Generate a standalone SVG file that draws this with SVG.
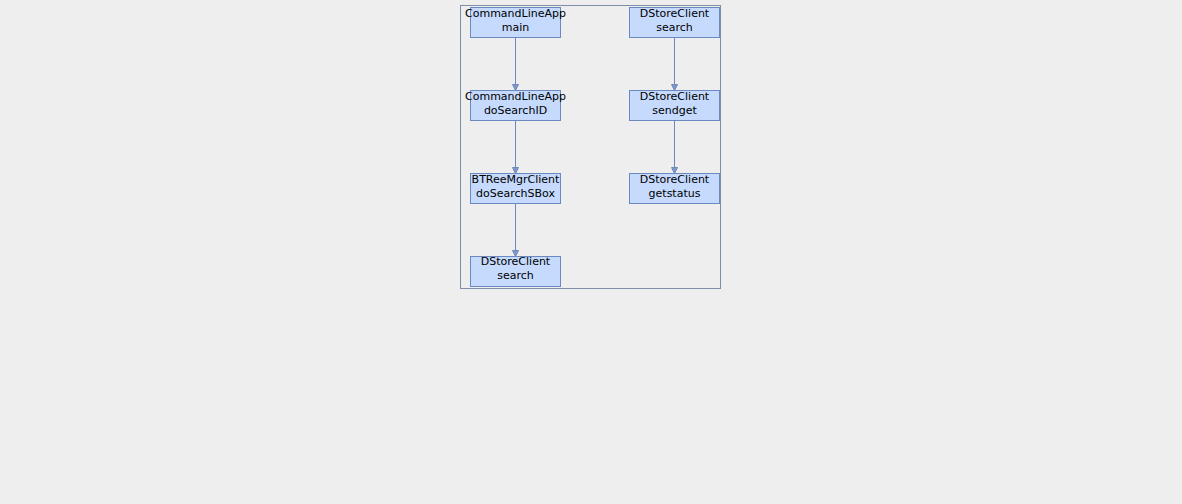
<svg xmlns="http://www.w3.org/2000/svg" width="1182" height="504" viewBox="0 0 1182 504">
<style>
.bg{fill:#eeeeee}
.frame{fill:none;stroke:#7f8ea8;stroke-width:1}
.node rect{fill:#c5dafd;stroke:#6c88c0;stroke-width:1}
.node text{font-family:"DejaVu Sans",sans-serif;font-size:11px;fill:#000;text-anchor:middle}
.edge{stroke:#6f89bd;stroke-width:1;fill:none;marker-end:url(#arr)}
</style>
<defs>
<marker id="arr" markerWidth="8" markerHeight="8" refX="7" refY="4" orient="auto" markerUnits="userSpaceOnUse">
<path d="M1,1 L7,4 L1,7 Z" fill="#7f98cc" stroke="#6f89bd" stroke-width="1"/>
</marker>
</defs>
<rect class="bg" x="0" y="0" width="1182" height="504"/>
<rect class="frame" x="460.5" y="5.5" width="260" height="283"/>
<g id="connectors">
<line class="edge" x1="515.5" y1="37.5" x2="515.5" y2="90.5"/>
<line class="edge" x1="515.5" y1="120.5" x2="515.5" y2="173.5"/>
<line class="edge" x1="515.5" y1="203.5" x2="515.5" y2="256.5"/>
<line class="edge" x1="674.5" y1="37.5" x2="674.5" y2="90.5"/>
<line class="edge" x1="674.5" y1="120.5" x2="674.5" y2="173.5"/>
</g>
<g id="n1" class="node"><rect x="470.5" y="7.5" width="90" height="30"/><text x="515.5" y="17">CommandLineApp</text><text x="515.5" y="31">main</text></g>
<g id="n2" class="node"><rect x="470.5" y="90.5" width="90" height="30"/><text x="515.5" y="100">CommandLineApp</text><text x="515.5" y="114">doSearchID</text></g>
<g id="n3" class="node"><rect x="470.5" y="173.5" width="90" height="30"/><text x="515.5" y="183">BTReeMgrClient</text><text x="515.5" y="197">doSearchSBox</text></g>
<g id="n4" class="node"><rect x="470.5" y="256.5" width="90" height="30"/><text x="515.5" y="265">DStoreClient</text><text x="515.5" y="279">search</text></g>
<g id="n5" class="node"><rect x="629.5" y="7.5" width="90" height="30"/><text x="674.5" y="17">DStoreClient</text><text x="674.5" y="31">search</text></g>
<g id="n6" class="node"><rect x="629.5" y="90.5" width="90" height="30"/><text x="674.5" y="100">DStoreClient</text><text x="674.5" y="114">sendget</text></g>
<g id="n7" class="node"><rect x="629.5" y="173.5" width="90" height="30"/><text x="674.5" y="183">DStoreClient</text><text x="674.5" y="197">getstatus</text></g>
</svg>
